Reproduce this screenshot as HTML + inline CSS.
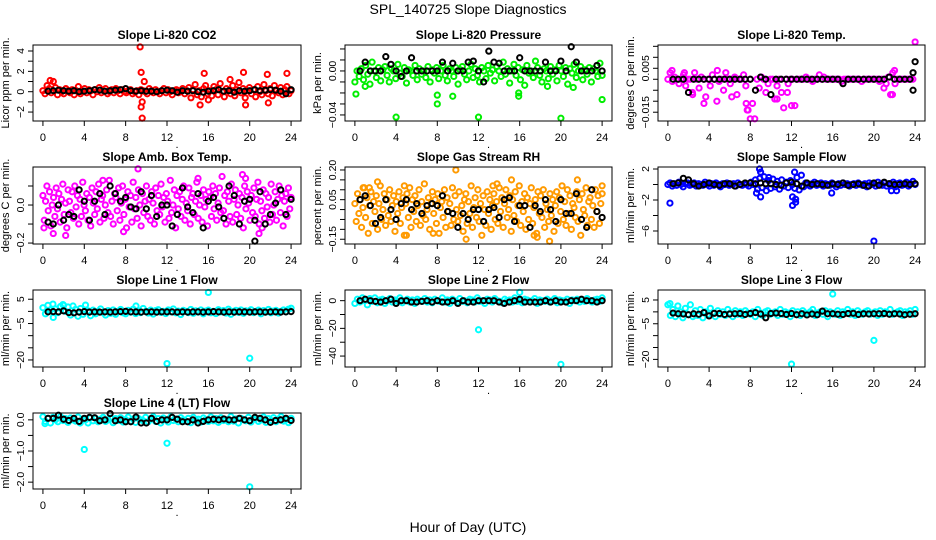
<!DOCTYPE html>
<html><head><meta charset="utf-8">
<style>
html,body{margin:0;padding:0;background:#fff;}
svg{display:block;font-family:"Liberation Sans",Arial,sans-serif;}
</style></head>
<body>
<svg id="chart" width="936" height="540" viewBox="0 0 936 540" xmlns="http://www.w3.org/2000/svg">
<rect x="0" y="0" width="936" height="540" fill="#fff"/>
<text x="468" y="14" font-size="14" text-anchor="middle">SPL_140725  Slope Diagnostics</text>
<text x="468" y="532" font-size="14" text-anchor="middle">Hour of Day (UTC)</text>
</svg>
<script>
// ---- data (values in plotted units; x = hour of day) ----
const xTicks=[0,4,8,12,16,20,24];
const co2Main=[0.1,-0.2,0.6,0.3,-0.1,1.0,0.4,-0.3,0.2,0.0,-0.2,0.3,0.1,-0.1,0.2,-0.3,0.1,0.5,-0.2,0.0,0.3,-0.1,0.2,0.1,-0.3,0.2,0.0,0.4,-0.1,0.1,0.3,-0.2,0.0,0.2,-0.1,0.3,0.1,-0.2,0.2,0.0,-0.1,0.1,0.2,-0.2,0.0,0.1,-0.3,0.2,0.1,0.0,-0.2,0.3,0.1,-0.1,0.2,0.0,-0.2,0.1,0.3,-0.1,0.2,0.0,-0.3,0.1,0.2,-0.1,0.0,0.3,-0.2,0.1,0.4,-0.6,0.2,0.7,-0.3,0.1,-0.5,0.3,0.6,-0.2,0.1,-0.4,0.5,0.2,-0.3,0.8,0.0,-0.5,0.3,0.1,-0.2,0.6,-0.4,0.2,0.9,-0.1,0.3,-0.6,0.1,0.4,-0.2,0.2,-0.5,0.5,0.0,-0.3,0.7,0.1,-0.2,0.3,-0.4,0.6,0.1,-0.1,0.4,-0.3,0.2,0.5,-0.2,0.1];
const co2OutX=[9.4,9.5,9.5,9.6,9.6,9.8,15.2,15.6,19.4,19.6,21.7,21.8,23.6,0.7,16.0,18.1];
const co2OutY=[4.4,1.9,-1.5,-2.6,-1.0,1.0,-1.3,1.8,1.9,-1.3,1.7,-1.1,1.8,1.1,-0.8,1.2];
const co2Black=[0.05,0.1,0.15,0.1,0.05,0.1,0.0,0.05,0.1,0.2,0.15,0.05,0.1,0.15,0.2,0.3,0.1,0.05,0.1,0.05,0.05,0.0,0.1,0.15,0.1,-0.05,0.1,0.05,0.1,0.0,-0.05,0.05,0.1,0.2,0.05,0.1,-0.05,0.1,0.05,0.1,0.2,0.1,0.15,0.2,0.15,0.05,-0.2,0.2];

const presMain=[-0.01,0.0,-0.005,0.002,-0.008,0.005,-0.003,-0.012,0.008,0.0,-0.006,0.003,-0.009,0.001,0.004,-0.004,-0.01,0.002,0.0,-0.007,0.006,-0.002,-0.005,0.003,-0.011,0.001,0.0,-0.004,0.005,-0.008,0.002,-0.003,0.0,-0.006,0.004,-0.01,0.001,-0.002,0.003,-0.007,0.0,0.005,-0.004,-0.009,0.002,0.0,-0.005,0.003,-0.012,0.001,0.004,-0.003,-0.008,0.0,0.006,-0.006,0.002,-0.004,-0.01,0.003,0.0,-0.007,0.005,-0.002,0.001,-0.009,0.004,0.0,-0.005,0.008,-0.003,0.002,-0.011,0.0,0.006,-0.004,0.003,-0.008,0.001,-0.013,0.005,-0.002,0.0,-0.006,0.009,0.003,-0.004,-0.01,0.002,0.0,-0.007,0.004,-0.003,0.001,-0.009,0.005,0.0,-0.005,0.003,-0.012,0.002,-0.002,0.006,-0.006,0.0,0.004,-0.008,0.001,-0.003,0.003,-0.01,0.002,0.0,-0.005,0.007,-0.004];
const presOutX=[0.1,1.0,4.0,8.0,8.0,9.5,12.0,15.9,15.9,18.7,20.0,21.2,24.0];
const presOutY=[-0.021,-0.014,-0.042,-0.022,-0.03,-0.023,-0.042,-0.02,-0.023,-0.014,-0.043,-0.015,-0.026];
const presBlack=[0.0,0.008,0.0,0.0,0.0,0.013,0.006,0.0,-0.005,0.0,0.012,0.0,0.0,0.0,0.0,0.0,0.008,0.0,0.007,0.0,0.0,0.008,0.009,0.0,-0.01,0.018,0.008,0.007,0.0,0.0,0.0,0.012,0.0,0.0,0.0,0.0,0.008,0.0,0.0,0.009,0.0,0.022,0.008,0.0,0.0,0.0,0.005,0.0];

const tempMain=[0.0,0.003,-0.001,0.001,0.0,-0.002,0.0,0.002,-0.003,0.0,0.0,-0.006,0.003,0.0,-0.004,0.001,0.0,-0.008,0.0,-0.003,0.002,0.0,-0.01,-0.001,0.0,-0.005,0.003,0.0,-0.002,0.0,0.001,-0.007,0.0,0.0,0.002,-0.003,-0.014,0.0,-0.011,-0.018,0.0,-0.004,0.001,0.0,-0.006,-0.002,0.0,0.0,-0.009,-0.003,0.0,-0.006,-0.013,0.0,-0.002,0.0,0.0,-0.012,0.0,0.0,0.0,0.0,0.001,0.0,0.0,-0.001,0.0,0.0,0.002,0.0,0.001,0.0,0.0,0.0,0.0,0.0,0.0,0.0,-0.001,0.0,0.0,0.0,0.0,0.0,0.0,0.0,0.0,-0.001,0.0,0.0,0.0,0.0,0.0,0.0,0.0,-0.001,0.0,-0.004,-0.002,0.001,-0.007,0.003,-0.002,0.0,0.0,0.0,0.0,0.0,0.0,0.0,0.0,0.017];
const tempOutX=[0.4,1.6,2.4,3.5,4.8,6.2,7.6,7.7,8.0,10.6,11.6,12.0,21.8,22.0];
const tempOutY=[0.004,0.003,-0.007,-0.011,0.004,-0.008,-0.011,-0.014,-0.018,-0.009,-0.006,-0.012,-0.007,0.004];
const tempBlack=[0,0,0,-0.006,0,0,0,0,0,0,0,0,0,0,0,0,-0.005,0.001,0,-0.007,0,0,0,0,0,0,0,0,0,0,0,0,0,-0.002,0,0,0,0,0,0,0,0,0.001,0,0,0,0,0.008];
const tempBlackOutX=[23.8,23.8];
const tempBlackOutY=[0.003,-0.005];

const ambMain=[.05,-.08,.02,.10,-.03,.07,-.11,.00,.04,-.06,.09,-.02,.06,-.09,.03,.11,-.05,.01,-.12,.08,.02,-.04,.07,-.07,.10,-.01,.05,-.10,.03,-.06,.12,.00,-.03,.06,-.08,.04,-.11,.09,.01,-.05,.07,-.02,.11,-.09,.03,.05,-.07,.00,.08,-.04,.13,-.06,.02,-.10,.06,.04,-.03,.09,-.08,.01,.10,-.05,.03,-.12,.07,-.01,.05,-.09,.12,-.02,.04,-.07,.08,.00,-.11,.06,-.04,.02,.10,-.06,.03,-.08,.07,.01,-.10,.09,-.03,.05,-.05,.11,-.01,.04,-.09,.06,.02,-.07,.13,-.04,.00,.08,-.12,.05,-.02,.07,-.06,.03,.10,-.08,.01,-.03,.09,-.10,.04,.06,-.05,.02,.12,-.07,.00,.05,-.09,.08,-.01,.03,-.11,.07,.04,-.06,.10,-.02,.06,-.08,.01,.09,-.04,.15,-.03,.05,-.10,.07,.02,-.06,.11,-.09,.03,.08,-.05,.00,.06,-.07,.04,-.12,.10,-.02,.07,.01,-.08,.05,-.04,.09,-.06,.03,.12,-.10,.02,-.03,.08,-.07,.06,-.01,.04,-.09,.11,-.05,.00,.07,-.08,.03,.10,-.04,.05,-.11,.02,.06,-.06,.09,-.02,.04];
const ambOutX=[0.1,1.0,2.2,7.8,9.2,19.3,19.6,20.9,21.2,5.8,15.0];
const ambOutY=[-0.12,-0.15,-0.16,-0.14,0.19,0.16,0.14,-0.15,-0.12,0.13,0.14];
const ambBlack=[-.09,-.1,.0,-.08,-.05,-.06,.08,.02,-.08,.02,.06,-.05,.10,.06,.02,.04,-.01,-.02,.07,-.02,.05,-.06,.0,.0,-.11,-.05,.09,-.01,-.04,.06,-.12,.02,.04,-.01,-.07,.10,.05,-.1,.02,.03,-.08,.07,-.1,-.05,.01,.08,-.05,.03];
const ambBlackOutX=[20.5];
const ambBlackOutY=[-0.19];

const rhMain=[.03,-.06,.08,-.02,.05,-.09,.01,.11,-.04,.06,-.12,.02,.09,-.07,.04,-.01,.07,-.10,.03,.12,-.05,.00,.08,-.08,.05,-.03,.10,-.06,.02,.07,-.11,.04,-.02,.09,-.07,.01,.06,-.13,.03,.08,-.04,.11,-.09,.05,-.01,.07,-.06,.02,.10,-.08,.04,-.03,.13,-.05,.00,.06,-.10,.03,.09,-.02,.05,-.07,.08,-.12,.01,.04,-.04,.10,-.09,.06,-.01,.03,-.08,.11,-.05,.07,.00,-.06,.09,-.03,.02,-.11,.05,.08,-.07,.04,-.02,.12,-.09,.01,.06,-.04,.10,-.06,.03,-.13,.07,.00,-.08,.09,-.02,.05,-.10,.02,.08,-.05,.04,-.07,.11,-.01,.06,-.09,.03,.10,-.04,.00,.07,-.11,.05,-.03,.09,-.06,.02,.12,-.08,.04,-.01,.08,-.10,.06,-.05,.03,.11,-.07,.01,.05,-.12,.09,-.02,.07,-.04,.10,-.09,.03,.00,-.06,.08,-.03,.05,-.11,.02,.09,-.07,.06,-.01,.12,-.05,.04,-.08,.10,-.02,.07,-.10,.03,.01,-.04,.09,-.06,.05,-.13,.08,.00,-.03,.11,-.08,.04,.06,-.05,.02,-.09,.10,-.01,.07,-.07,.03,.08];
const rhOutX=[0.8,1.4,2.2,4.8,7.6,9.8,13.4,13.8,15.2,17.4,18.9,21.6,24.0,5.0,10.8,17.7];
const rhOutY=[.11,.11,.14,.12,-.12,.20,.12,.13,.15,-.13,-.16,.15,.12,-.13,-.15,-.14];
const rhBlack=[.05,.07,.02,-.07,-.04,.05,.0,-.05,.03,.05,.0,.03,-.02,.02,.03,.02,.07,-.01,-.02,-.09,-.02,-.05,.0,.0,-.06,.0,.01,-.04,.05,.06,-.06,.02,.02,-.09,.02,-.01,.05,.0,-.06,.05,-.02,-.02,.08,-.05,-.09,.10,-.01,-.04];

const flowMain=[0.0,0.2,-0.2,0.1,-0.1,0.3,0.0,-0.3,0.1,0.2,-0.1,0.0,0.2,-0.2,0.1,0.0,-0.1,0.3,0.0,-0.2,0.1,-0.1,0.2,0.0,-0.3,0.1,0.0,0.2,-0.1,0.0,0.1,-0.2,0.2,0.0,-0.1,0.1,0.0,-0.2,0.3,0.0,0.6,-0.6,0.8,-0.4,1.0,-0.8,0.5,-0.5,0.7,-0.3,0.4,-0.6,0.6,-0.2,0.3,-0.4,0.5,0.0,-0.5,0.9,-0.7,1.2,-0.3,0.2,0.0,-0.2,0.1,0.3,-0.1,0.0,0.2,-0.2,0.1,0.0,-0.1,0.2,0.0,-0.3,0.1,-0.1,0.2,0.0,0.1,-0.2,0.0,0.1,-0.1,0.2,0.0,-0.1,0.1,-0.3,0.2,0.0,0.1,-0.2,0.3,0.0,-0.1,0.2,-0.2,0.1,0.0,0.3,-0.3,0.1,0.2,-0.1,0.0,0.3,-0.2,0.1,0.4,0.0];
const flowOutX=[0.2,8.9,9.0,8.6,9.0,9.8,12.1,12.1,12.4,12.4,12.3,15.9,20.0,21.7,22.2];
const flowOutY=[-2.4,2.0,1.6,-1.1,-1.6,0.9,-1.6,-2.7,-1.9,-2.3,1.6,-1.1,-7.3,-0.8,-0.8];
const flowBlack=[0.1,0.2,0.8,0.6,0.1,-0.2,0.0,0.2,0.0,-0.1,0.1,0.1,-0.2,0.0,0.2,0.2,0.1,0.2,0.1,0.1,0.0,-0.1,0.2,0.3,0.1,-0.2,0.2,0.0,0.1,0.0,-0.1,0.1,0.0,0.2,-0.1,0.0,0.1,-0.1,-0.2,0.2,-0.1,0.3,0.1,0.0,0.0,0.1,0.0,0.1];

const l1Main=[1.5,-1,2.5,0.5,3,1,-0.5,2,2.8,0,1.8,-1.5,2.2,0.8,-2,1.2,-1.2,2.6,0.2,-1.8,0.5,-1,0,1,-0.5,-1.5,0.3,-0.8,0.6,-1.2,0,0.8,-0.6,-1,0.4,-0.3,0.9,-0.9,0.2,-0.5,1.2,0,-0.7,0.5,-1.1,0.3,0.7,-0.4,0,-0.9,0.6,-0.2,1,-0.6,0.1,-1.3,0.4,0,-0.5,0.8,-0.8,0.2,-0.3,0.6,-1,0.1,0.5,-0.6,0,-0.9,0.7,-0.2,0.3,-0.7,0.9,-1.2,0,0.4,-0.4,0.6,-0.8,0.2,-0.1,0.7,-0.5,0,0.5,-1,0.3,-0.3,0.8,-0.6,0.1,0.4,-0.7,0,0.6,-0.2,0.9,1.3];
const l1OutX=[16.0,12.0,20.0,2.0,9.0,1.0];
const l1OutY=[7.8,-21.5,-19.3,2.5,2.2,-2.5];
const l1Black=[-0.2,-0.1,-0.2,0.2,-0.5,-0.6,-0.3,-0.1,-0.3,-0.2,-0.3,-0.2,-0.3,-0.2,-0.1,0.0,-0.2,-0.2,-0.3,-0.2,-0.2,-0.3,-0.2,-0.2,-0.2,-0.3,-0.2,-0.3,-0.2,-0.2,-0.3,-0.2,-0.1,-0.2,-0.3,-0.2,-0.3,-0.2,-0.2,-0.3,-0.2,-0.2,-0.3,-0.2,-0.2,-0.3,-0.2,-0.1];

const l2Main=[-2,1,-1,2,0,-3,1.5,-0.5,2,-1.5,0.5,1,-2,0,1.5,-1,0.5,-0.5,2,-1.5,0,1,-1,0.5,-2,1,0,-0.5,1.5,-1,0.5,-1.5,1,0,-0.5,2,-1,0.5,-2,1,0,-1,1.5,-0.5,0,-1.5,1,0.5,-1,2,-0.5,0,-2,1,0.5,-1,1.5,0,-0.5,-1.5,1,0,0.5,-1,2,-0.5,0,-1.5,1,0.5,-1,0,1.5,-2,0.5,0,-0.5,1,-1,0,1.5,-1.5,0.5,0,-0.5,1,-2,0.5,0,1,-1,0.5,-0.5,1.5,0,-1,0.5,1,-0.5,2];
const l2OutX=[12.0,16.0,20.0];
const l2OutY=[-21,6,-46];
const l2Black=[0,1,0,-0.5,-1,0,1,-2,0,0,-1,-1,-0.5,0,-1,0,-1,-1,0,-2,0,-1,-1,0,0,0,0,-1,-2,-1,0,1,-1,-1,-1,-1,0,-1,0,-1,-1,0,0,1,0,0,-1,0];

const l3Main=[3,-1.5,1,-2,2.5,0,-2.5,1.5,-1,3,-2,0.5,-1.5,1,-2.5,0,-1,1.5,-0.5,-2,0.5,-1,0,-1.5,1,-0.5,-2,0.5,-1,0,-1.5,0.5,-0.5,-1,0,-2,1,-0.5,-1.5,0,0.5,-1,-0.5,0,-1.5,1,-1,0,-0.5,-2,0.5,-1,0,-1.5,0.5,-0.5,-1,0,1,-1.5,-0.5,0,-1,0.5,-2,0,-0.5,-1,0.5,-1.5,0,-0.5,1,-1,0,-1.5,0.5,-0.5,-1,0,0.5,-1,-0.5,0,-1.5,0.5,-1,0,-0.5,1,-1,-0.5,0,0.5,-1.5,0,-0.5,0.5,-1,1];
const l3OutX=[0.2,12.0,16.0,20.0];
const l3OutY=[3.5,-22,7.5,-12];
const l3Black=[-0.5,-0.8,-0.9,-1.2,-0.8,-1,-0.3,-1.7,-0.6,-0.7,-1.1,-0.9,-0.8,-0.7,-1.1,-0.7,-0.3,-0.9,-2.5,-0.7,-0.5,-0.7,-1.1,-0.7,-1.2,-0.8,-1.3,-0.9,-1.2,0.3,-0.8,-0.8,-1,-1.1,-0.7,-0.6,-1.1,-0.8,-0.9,-0.8,-0.8,-0.7,-1,-0.8,-0.9,-1.2,-1,-0.8];

const l4Main=[0.1,-0.05,0.05,-0.1,0.08,0.0,-0.06,0.1,-0.02,0.04,-0.08,0.06,0.0,-0.04,0.09,-0.07,0.03,0.0,-0.1,0.07,-0.03,0.05,-0.06,0.02,0.08,-0.05,0.0,0.06,-0.09,0.04,-0.02,0.07,-0.07,0.01,0.09,-0.04,0.03,-0.08,0.05,0.0,-0.03,0.08,-0.06,0.02,0.1,-0.05,0.04,-0.1,0.06,0.0,-0.07,0.09,-0.02,0.03,-0.06,0.07,0.0,-0.04,0.05,-0.09,0.08,-0.01,0.02,-0.07,0.06,0.0,-0.05,0.09,-0.03,0.04,-0.08,0.07,-0.02,0.01,-0.06,0.1,-0.04,0.03,-0.1,0.05,0.0,-0.03,0.08,-0.07,0.02,0.06,-0.05,0.0,0.09,-0.08,0.04,-0.02,0.07,-0.06,0.03,0.1,-0.04,0.0,-0.09,0.05];
const l4OutX=[4.0,12.0,20.0,0.2,3.6];
const l4OutY=[-0.95,-0.75,-2.15,-0.12,-0.1];
const l4Black=[0.05,0.05,0.15,0.02,-0.02,0.05,-0.05,0.05,0.08,0.07,-0.03,0.0,0.2,-0.03,0.0,-0.06,-0.06,0.09,-0.1,-0.1,0.05,-0.05,0.0,0.0,0.08,0.02,-0.06,-0.06,0.0,-0.1,-0.05,0.0,0.02,0.0,0.03,0.0,0.0,0.05,0.0,-0.03,0.08,0.05,0.0,-0.08,-0.02,0.0,0.05,-0.02];

// ---- layout ----
const cols=[[33,301],[345,612],[658,925]];
const rows=[[45,121],[167,244],[290,367],[413,489]];
const panels=[
 {id:'co2',title:'Slope Li-820 CO2',ylab:'Licor ppm per min.',c:0,r:0,ylim:[-2.88,4.59],ticks:[-2,-1,0,1,2,3,4],labels:{'-2':'\u22122','0':'0','2':'2','4':'4'},col:'#ff0000',main:co2Main,ox:co2OutX,oy:co2OutY,black:co2Black},
 {id:'pressure',title:'Slope Li-820 Pressure',ylab:'kPa per min.',c:1,r:0,ylim:[-0.0455,0.0236],ticks:[-0.04,-0.03,-0.02,-0.01,0,0.01,0.02],labels:{'-0.04':'\u22120.04','0':'0.00'},col:'#00ee00',main:presMain,ox:presOutX,oy:presOutY,black:presBlack},
 {id:'temp',title:'Slope Li-820 Temp.',ylab:'degrees C per min.',c:2,r:0,ylim:[-0.019,0.0156],ticks:[-0.015,-0.01,-0.005,0,0.005,0.01,0.015],labels:{'-0.015':'\u22120.015','0.005':'0.005'},col:'#ff00ff',main:tempMain,ox:tempOutX,oy:tempOutY,black:tempBlack,bx:tempBlackOutX,by:tempBlackOutY},
 {id:'amb-temp',title:'Slope Amb. Box Temp.',ylab:'degrees C per min.',c:0,r:1,ylim:[-0.205,0.2],ticks:[-0.2,-0.1,0,0.1],labels:{'-0.2':'\u22120.2','0':'0.0'},col:'#ff00ff',main:ambMain,ox:ambOutX,oy:ambOutY,black:ambBlack,bx:ambBlackOutX,by:ambBlackOutY},
 {id:'rh',title:'Slope Gas Stream RH',ylab:'percent per min.',c:1,r:1,ylim:[-0.174,0.215],ticks:[-0.15,-0.1,-0.05,0,0.05,0.1,0.15,0.2],labels:{'-0.15':'\u22120.15','0.05':'0.05','0.2':'0.20'},col:'#ff9a00',main:rhMain,ox:rhOutX,oy:rhOutY,black:rhBlack},
 {id:'sample-flow',title:'Slope Sample Flow',ylab:'ml/min per min.',c:2,r:1,ylim:[-7.68,2.26],ticks:[-6,-4,-2,0,2],labels:{'-6':'\u22126','-2':'\u22122','2':'2'},col:'#0000ff',main:flowMain,ox:flowOutX,oy:flowOutY,black:flowBlack},
 {id:'line1',title:'Slope Line 1 Flow',ylab:'ml/min per min.',c:0,r:2,ylim:[-22.9,8.8],ticks:[-20,-15,-10,-5,0,5],labels:{'-20':'\u221220','-5':'\u22125','5':'5'},col:'#00ffff',main:l1Main,ox:l1OutX,oy:l1OutY,black:l1Black},
 {id:'line2',title:'Slope Line 2 Flow',ylab:'ml/min per min.',c:1,r:2,ylim:[-47.9,7.7],ticks:[-40,-30,-20,-10,0],labels:{'-40':'\u221240','-20':'\u221220','0':'0'},col:'#00ffff',main:l2Main,ox:l2OutX,oy:l2OutY,black:l2Black},
 {id:'line3',title:'Slope Line 3 Flow',ylab:'ml/min per min.',c:2,r:2,ylim:[-23.2,9.2],ticks:[-20,-15,-10,-5,0,5],labels:{'-20':'\u221220','-5':'\u22125','5':'5'},col:'#00ffff',main:l3Main,ox:l3OutX,oy:l3OutY,black:l3Black},
 {id:'line4',title:'Slope Line 4 (LT) Flow',ylab:'ml/min per min.',c:0,r:3,ylim:[-2.22,0.22],ticks:[-2,-1.5,-1,-0.5,0],labels:{'-2':'\u22122.0','-1':'\u22121.0','0':'0.0'},col:'#00ffff',main:l4Main,ox:l4OutX,oy:l4OutY,black:l4Black}
];
const NS='http://www.w3.org/2000/svg';
const svg=document.getElementById('chart');
function mk(tag,attrs,parent){const e=document.createElementNS(NS,tag);for(const k in attrs)e.setAttribute(k,attrs[k]);parent.appendChild(e);return e;}
panels.forEach(p=>{
  const [L,R]=cols[p.c],[T,B]=rows[p.r];
  const sx=x=>L+(x+0.96)/25.92*(R-L);
  const sy=y=>B-(y-p.ylim[0])/(p.ylim[1]-p.ylim[0])*(B-T);
  const g=mk('g',{},svg);
  
  
  const t=mk('text',{x:(L+R)/2,y:T-6,'font-size':12,'font-weight':'bold','text-anchor':'middle'},g);
  t.textContent=p.title;
  
  
  const pts=mk('g',{fill:'none','stroke-width':2},g);
  
  
  const n=p.main.length;
  p.main.forEach((v,i)=>{
    const c=mk('circle',{cx:sx(24*i/(n-1)),cy:sy(v),r:2.6,stroke:p.col},pts);
    
    
  });
  p.ox.forEach((x,i)=>{
    const c=mk('circle',{cx:sx(x),cy:sy(p.oy[i]),r:2.6,stroke:p.col},pts);
    
    
  });
  const nb=p.black.length;
  p.black.forEach((v,i)=>{
    const c=mk('circle',{cx:sx(24*(i+1)/nb),cy:sy(v),r:2.6,stroke:'#000'},pts);
    
    
  });
  (p.bx||[]).forEach((x,i)=>{
    const c=mk('circle',{cx:sx(x),cy:sy(p.by[i]),r:2.6,stroke:'#000'},pts);
    
    
  });
  const box=mk('rect',{x:L,y:T,width:R-L,height:B-T,fill:'none',stroke:'#000','stroke-width':1},g);
  
  
  const xa=mk('g',{stroke:'#000','stroke-width':1},g);
  
  
  mk('line',{x1:sx(0),x2:sx(24),y1:B,y2:B},xa);
  xTicks.forEach(v=>{
    mk('line',{x1:sx(v),x2:sx(v),y1:B,y2:B+5},xa);
    const tl=mk('text',{x:sx(v),y:B+20,'font-size':11,'text-anchor':'middle',stroke:'none',fill:'#000'},xa);
    tl.textContent=String(v);
    
    
  });
  const dot=mk('text',{x:(L+R)/2+10,y:B+27,'font-size':11,'text-anchor':'middle'},g);
  dot.textContent='.';
  
  
  const ya=mk('g',{stroke:'#000','stroke-width':1},g);
  
  
  mk('line',{x1:L,x2:L,y1:sy(p.ticks[0]),y2:sy(p.ticks[p.ticks.length-1])},ya);
  p.ticks.forEach(v=>{
    const y=sy(v);
    mk('line',{x1:L-5,x2:L,y1:y,y2:y},ya);
    const key=String(v);
    if(p.labels[key]!==undefined){
      const tx=L-9;
      const tl=mk('text',{x:tx,y:y,'font-size':10.5,'text-anchor':'middle',transform:`rotate(-90 ${tx} ${y})`,stroke:'none',fill:'#000'},ya);
      tl.textContent=p.labels[key];
      
      
    }
  });
  const yx=L-24,yy=(T+B)/2;
  const yt=mk('text',{x:yx,y:yy,'font-size':11,'text-anchor':'middle',transform:`rotate(-90 ${yx} ${yy})`},g);
  yt.textContent=p.ylab;
  
  
});
</script>
</body></html>
